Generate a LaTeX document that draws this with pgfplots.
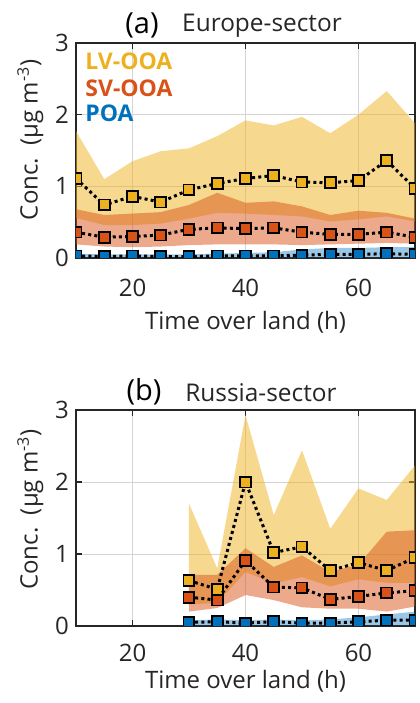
\documentclass[border=0pt]{standalone}
\usepackage{fontspec}
\setmainfont{Open Sans}
\usepackage{pgfplots}
\usepackage{pgfplotstable}
\pgfplotsset{compat=1.18}
\usepgfplotslibrary{fillbetween}
\definecolor{lvc}{RGB}{237,177,32}
\definecolor{svc}{RGB}{217,83,25}
\definecolor{poac}{RGB}{0,114,189}
\definecolor{axc}{RGB}{38,38,38}

\pgfplotstableread{
x  lvm  lvu  lvl  svm  svu  svl  pm   pu   pl
10 1.11 1.77 0.56 0.36 0.68 0.19 0.03 0.06 0.01
15 0.74 1.10 0.46 0.29 0.60 0.16 0.02 0.05 0.01
20 0.86 1.35 0.46 0.30 0.62 0.15 0.03 0.05 0.01
25 0.78 1.49 0.48 0.32 0.64 0.16 0.02 0.05 0.01
30 0.95 1.53 0.55 0.40 0.74 0.18 0.02 0.05 0.01
35 1.04 1.70 0.63 0.42 0.91 0.19 0.03 0.06 0.01
40 1.11 1.92 0.62 0.41 0.77 0.19 0.03 0.07 0.01
45 1.15 1.85 0.60 0.42 0.79 0.19 0.03 0.08 0.01
50 1.06 1.97 0.58 0.36 0.72 0.18 0.04 0.12 0.01
55 1.05 1.74 0.51 0.33 0.60 0.19 0.05 0.14 0.01
60 1.08 2.00 0.54 0.33 0.66 0.20 0.05 0.14 0.01
65 1.36 2.33 0.58 0.36 0.63 0.21 0.06 0.15 0.01
70 0.97 1.88 0.51 0.29 0.55 0.20 0.05 0.15 0.01
}\dataA

\pgfplotstableread{
x  lvm  lvu  lvl  svm  svu  svl  pm   pu   pl
30 0.63 1.70 0.30 0.40 0.71 0.20 0.05 0.08 0.01
35 0.51 0.80 0.32 0.36 0.71 0.25 0.06 0.09 0.01
40 2.00 2.93 0.75 0.91 1.08 0.43 0.04 0.08 0.01
45 1.02 1.54 0.59 0.54 0.82 0.36 0.06 0.09 0.01
50 1.10 2.44 0.68 0.53 0.98 0.26 0.04 0.08 0.01
55 0.77 1.35 0.55 0.37 0.75 0.24 0.04 0.09 0.01
60 0.88 1.91 0.65 0.41 0.85 0.24 0.06 0.12 0.01
65 0.77 1.75 0.60 0.46 1.31 0.20 0.08 0.16 0.01
70 0.95 2.23 0.60 0.49 1.33 0.27 0.08 0.20 0.01
}\dataB

\pgfplotsset{
  panel/.style={
    scale only axis, width=169.5pt, anchor=south west,
    xmin=10, xmax=70, ymin=0, ymax=3,
    xtick={20,40,60}, ytick={0,1,2,3},
    grid=major, major grid style={line width=0.5pt, color=black!17},
    axis line style={line width=1pt, color=axc},
    tick style={color=axc, line width=0.6pt},
    tick align=inside, major tick length=3pt,
    clip marker paths=true,
    /pgf/number format/assume math mode=true,
    ticklabel style={font=\fontsize{12}{14}\selectfont, color=black!85},
    label style={font=\fontsize{12}{14}\selectfont, color=black!85},
    ylabel={Conc.\ \ (µg m\textsuperscript{-3})},
    xlabel={Time over land (h)},
  },
  medline/.style={black, line width=1.5pt, dash pattern=on 1.5pt off 1.6pt,
    mark=square*, mark size=2.7pt,
    mark options={solid, draw=black, line width=0.9pt, fill=#1}},
}

\begin{document}
\begin{tikzpicture}[x=1pt,y=1pt]

% ---------------- (a)
\begin{axis}[panel, at={(38pt,222.5pt)}, height=107.5pt,
  xticklabel style={anchor=center, yshift=-15pt},
  xlabel style={at={(axis description cs:0.5,-0.298)}, anchor=center},
  ylabel style={at={(axis description cs:-0.135,0.55)}, anchor=center},
]
\addplot[name path=au, draw=none, forget plot] table[x=x,y=lvu]{\dataA};
\addplot[name path=al, draw=none, forget plot] table[x=x,y=lvl]{\dataA};
\addplot[lvc, fill opacity=0.5, draw=none] fill between[of=au and al];
\addplot[medline=lvc] table[x=x,y=lvm]{\dataA};
\addplot[name path=su, draw=none, forget plot] table[x=x,y=svu]{\dataA};
\addplot[name path=sl, draw=none, forget plot] table[x=x,y=svl]{\dataA};
\addplot[svc, fill opacity=0.5, draw=none] fill between[of=su and sl];
\addplot[medline=svc] table[x=x,y=svm]{\dataA};
\addplot[name path=qu, draw=none, forget plot] table[x=x,y=pu]{\dataA};
\addplot[name path=ql, draw=none, forget plot] table[x=x,y=pl]{\dataA};
\addplot[poac, fill opacity=0.4, draw=none] fill between[of=qu and ql];
\addplot[medline=poac] table[x=x,y=pm]{\dataA};
\end{axis}

% ---------------- (b)
\begin{axis}[panel, at={(38pt,38.5pt)}, height=108pt,
  xticklabel style={anchor=center, yshift=-13.5pt},
  xlabel style={at={(axis description cs:0.5,-0.255)}, anchor=center},
  ylabel style={at={(axis description cs:-0.135,0.54)}, anchor=center},
]
\addplot[name path=bau, draw=none, forget plot] table[x=x,y=lvu]{\dataB};
\addplot[name path=bal, draw=none, forget plot] table[x=x,y=lvl]{\dataB};
\addplot[lvc, fill opacity=0.5, draw=none] fill between[of=bau and bal];
\addplot[medline=lvc] table[x=x,y=lvm]{\dataB};
\addplot[name path=bsu, draw=none, forget plot] table[x=x,y=svu]{\dataB};
\addplot[name path=bsl, draw=none, forget plot] table[x=x,y=svl]{\dataB};
\addplot[svc, fill opacity=0.5, draw=none] fill between[of=bsu and bsl];
\addplot[medline=svc] table[x=x,y=svm]{\dataB};
\addplot[name path=bqu, draw=none, forget plot] table[x=x,y=pu]{\dataB};
\addplot[name path=bql, draw=none, forget plot] table[x=x,y=pl]{\dataB};
\addplot[poac, fill opacity=0.4, draw=none] fill between[of=bqu and bql];
\addplot[medline=poac] table[x=x,y=pm]{\dataB};
\end{axis}

% titles
\node[font=\fontsize{14.5}{16}\selectfont] at (71,339) {(a)};
\node[font=\fontsize{12.2}{14}\selectfont, color=black!85] at (131,338.5) {Europe-sector};
\node[font=\fontsize{14.5}{16}\selectfont] at (72,155.5) {(b)};
\node[font=\fontsize{12.2}{14}\selectfont, color=black!85] at (130.5,155) {Russia-sector};

% legend text
\node[anchor=west, font=\bfseries\fontsize{11.5}{13}\selectfont, text=lvc, inner sep=0pt] at (42.5,320.7) {LV-OOA};
\node[anchor=west, font=\bfseries\fontsize{11.5}{13}\selectfont, text=svc, inner sep=0pt] at (42.5,307.5) {SV-OOA};
\node[anchor=west, font=\bfseries\fontsize{11.5}{13}\selectfont, text=poac, inner sep=0pt] at (42.5,295) {POA};

\pgfresetboundingbox
\path[use as bounding box] (0,0) rectangle (209.5,351.5);
\end{tikzpicture}
\end{document}
